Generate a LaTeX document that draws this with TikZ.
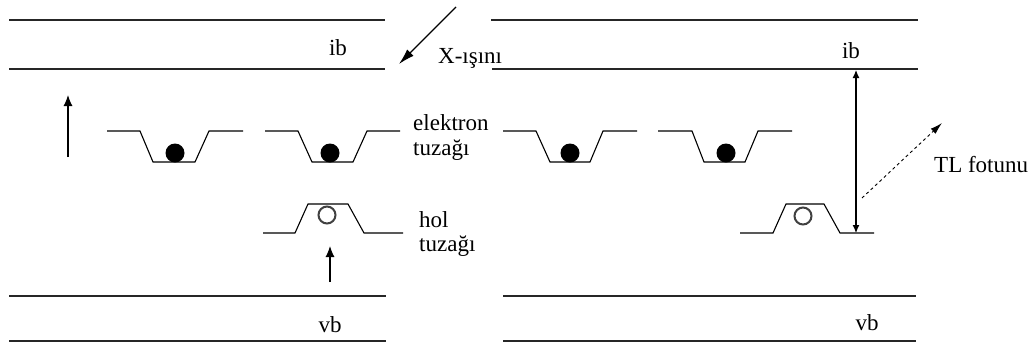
\documentclass[tikz,border=0pt]{standalone}
\usepackage{fontspec}
\setmainfont{Liberation Serif}
\usetikzlibrary{arrows.meta}
\begin{document}
\begin{tikzpicture}[x=1pt,y=-1pt,
  band/.style={line width=1.6pt,draw=black!85},
  trap/.style={line width=1.1pt},
  lbl/.style={inner sep=0pt,font=\fontsize{23}{25}\selectfont},
  arr/.style={-{Latex[length=11pt,width=9pt]},line width=1.1pt},
  darr/.style={{Latex[length=8pt,width=7pt]}-{Latex[length=8pt,width=7pt]},line width=1.1pt}]
\useasboundingbox (0,0) rectangle (1034,346);
% bands
\draw[band] (9,20) -- (385,20);
\draw[band] (9,69) -- (385,69);
\draw[band] (491,20) -- (918,20);
\draw[band] (492,69) -- (918,69);
\draw[band] (9,296) -- (386,296);
\draw[band] (9,341) -- (386,341);
\draw[band] (503,296) -- (916,296);
\draw[band] (503,341) -- (916,341);
\node[lbl,anchor=base] (ib1) at (338,55) {ib};
\node[lbl,anchor=base] (ib2) at (851,58) {ib};
\node[lbl,anchor=base] (vb1) at (330,332) {vb};
\node[lbl,anchor=base] (vb2) at (867,330) {vb};
% electron traps
\draw[trap] (107,131) -- (140,131) -- (153,162) -- (195,162) -- (209,131) -- (243,131);
\draw[trap] (265,131) -- (298,131) -- (312,162) -- (353,162) -- (367,131) -- (400,131);
\draw[trap] (503,131) -- (536,131) -- (550,162) -- (590,162) -- (603,131) -- (637,131);
\draw[trap] (658,131) -- (692,131) -- (704,162) -- (745,162) -- (758,131) -- (792,131);
\fill (175,153) circle (9.5);
\fill (330,153) circle (9.5);
\fill (570,153) circle (9.5);
\fill (726,153) circle (9.5);
% hole traps
\draw[trap] (263,233) -- (295,233) -- (308,204) -- (348,204) -- (364,233) -- (403,233);
\draw[trap] (740,233) -- (773,233) -- (786,204) -- (824,204) -- (840,233) -- (874,233);
\draw[line width=2pt,black!75] (327,215) circle (8.5);
\draw[line width=2pt,black!75] (803,216) circle (8.5);
% labels
\node[lbl,anchor=base west] (el) at (413,130) {elektron};
\node[lbl,anchor=base west] (et) at (413,155) {tuzağı};
\node[lbl,anchor=base west] (hl) at (419,227) {hol};
\node[lbl,anchor=base west] (ht) at (419,251) {tuzağı};
\node[lbl,anchor=base west] (xr) at (438,63) {X-ışını};
\node[lbl,anchor=base west] (tl) at (934,172) {TL fotunu};
% arrows
\coordinate (a1s) at (68,157); \coordinate (a1e) at (68,95);
\draw[arr] (a1s) -- (a1e);
\coordinate (a2s) at (330,282); \coordinate (a2e) at (330,246);
\draw[arr] (a2s) -- (a2e);
\coordinate (xs) at (456,7); \coordinate (xe) at (399,64);
\draw[-{Latex[length=16pt,width=9pt]},line width=1.1pt] (xs) -- (xe);
\coordinate (ds) at (856,70); \coordinate (de) at (856,233);
\draw[darr] (ds) -- (de);
\coordinate (ts) at (862,198); \coordinate (te) at (942,123);
\draw[-{Latex[length=12pt,width=7pt]},dashed,line width=0.9pt] (ts) -- (te);
\end{tikzpicture}
\end{document}
